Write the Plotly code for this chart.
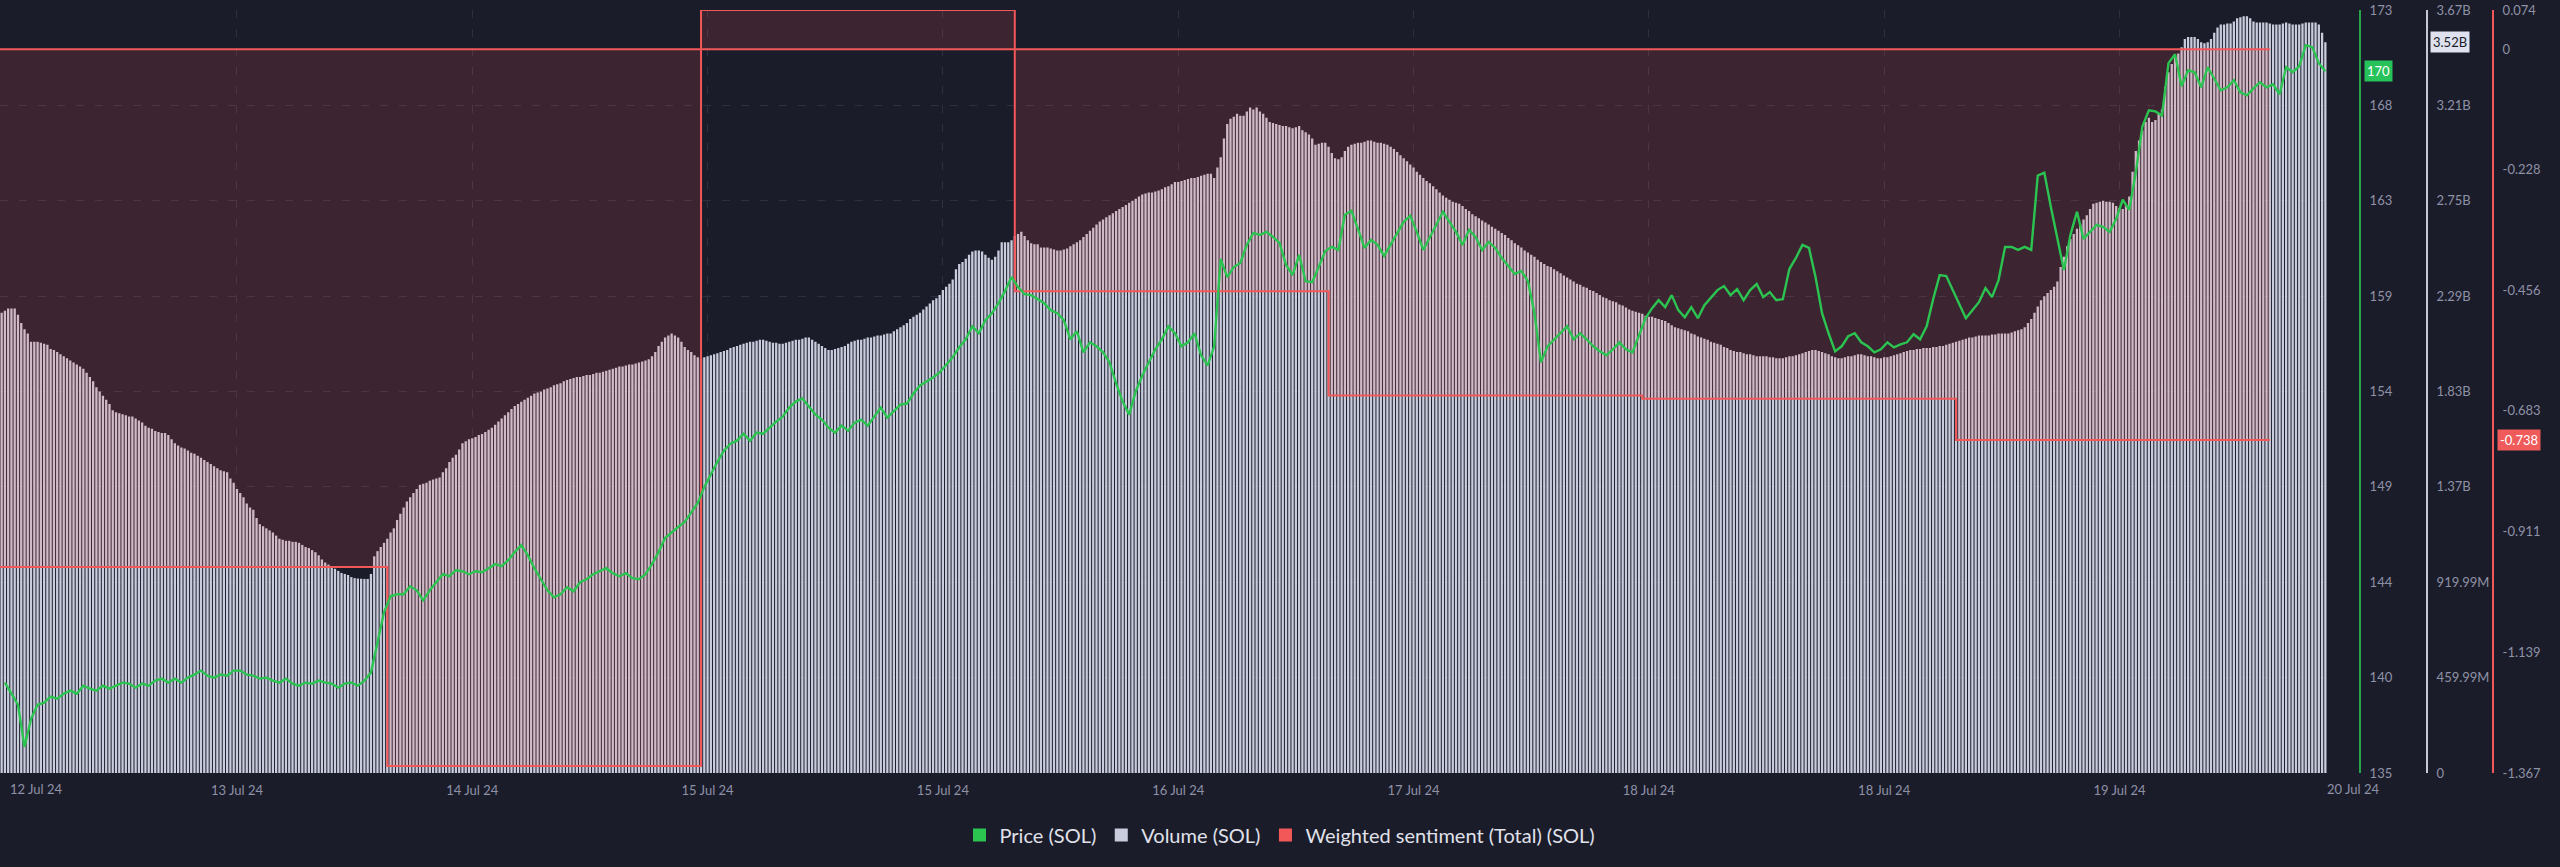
import pandas as pd
import plotly.graph_objects as go

# ---------------- data ----------------
START = "2024-07-12 18:30"

# Volume (SOL), billions, one bar every 15 minutes
VOLUME_B = [
    2.22, 2.23, 2.24, 2.24, 2.24, 2.21, 2.17, 2.14, 2.12, 2.08,
    2.08, 2.08, 2.075, 2.07, 2.065, 2.045, 2.04, 2.03, 2.02, 2.01,
    2.00, 1.99, 1.98, 1.97, 1.96, 1.95, 1.93, 1.91, 1.89, 1.86,
    1.84, 1.82, 1.80, 1.78, 1.75, 1.74, 1.735, 1.73, 1.725, 1.72,
    1.72, 1.71, 1.70, 1.69, 1.675, 1.665, 1.66, 1.65, 1.645, 1.64,
    1.64, 1.63, 1.61, 1.59, 1.58, 1.57, 1.565, 1.555, 1.545, 1.54,
    1.53, 1.52, 1.51, 1.50, 1.49, 1.48, 1.47, 1.46, 1.455, 1.45,
    1.42, 1.40, 1.37, 1.35, 1.33, 1.30, 1.28, 1.27, 1.23, 1.20,
    1.19, 1.18, 1.17, 1.16, 1.145, 1.13, 1.125, 1.12, 1.12, 1.115,
    1.115, 1.11, 1.10, 1.09, 1.085, 1.075, 1.065, 1.05, 1.03, 1.015,
    1.005, 0.995, 0.985, 0.975, 0.965, 0.96, 0.955, 0.945, 0.94, 0.938,
    0.937, 0.936, 0.936, 0.96, 1.045, 1.07, 1.09, 1.11, 1.13, 1.16,
    1.18, 1.22, 1.25, 1.28, 1.31, 1.33, 1.35, 1.37, 1.39, 1.395,
    1.40, 1.41, 1.415, 1.42, 1.425, 1.45, 1.47, 1.50, 1.52, 1.535,
    1.56, 1.59, 1.60, 1.61, 1.615, 1.62, 1.63, 1.635, 1.645, 1.655,
    1.665, 1.68, 1.695, 1.71, 1.725, 1.74, 1.755, 1.77, 1.78, 1.79,
    1.80, 1.81, 1.82, 1.83, 1.835, 1.84, 1.85, 1.855, 1.86, 1.87,
    1.875, 1.88, 1.89, 1.895, 1.90, 1.905, 1.91, 1.91, 1.915, 1.92,
    1.92, 1.925, 1.93, 1.93, 1.935, 1.94, 1.945, 1.95, 1.955, 1.96,
    1.96, 1.965, 1.97, 1.97, 1.975, 1.98, 1.985, 1.99, 1.995, 2.01,
    2.03, 2.06, 2.08, 2.10, 2.11, 2.12, 2.11, 2.10, 2.08, 2.055,
    2.04, 2.03, 2.015, 2.005, 2.00, 2.005, 2.01, 2.015, 2.02, 2.025,
    2.03, 2.035, 2.04, 2.05, 2.055, 2.06, 2.065, 2.07, 2.075, 2.08,
    2.08, 2.085, 2.09, 2.09, 2.085, 2.08, 2.075, 2.075, 2.07, 2.07,
    2.075, 2.08, 2.085, 2.09, 2.09, 2.095, 2.10, 2.10, 2.09, 2.08,
    2.07, 2.06, 2.05, 2.04, 2.04, 2.045, 2.05, 2.055, 2.06, 2.07,
    2.08, 2.085, 2.09, 2.09, 2.095, 2.10, 2.10, 2.105, 2.11, 2.11,
    2.115, 2.12, 2.12, 2.13, 2.14, 2.15, 2.16, 2.17, 2.19, 2.20,
    2.21, 2.22, 2.235, 2.25, 2.265, 2.28, 2.29, 2.305, 2.33, 2.345,
    2.36, 2.38, 2.43, 2.455, 2.465, 2.48, 2.50, 2.515, 2.52, 2.52,
    2.515, 2.50, 2.485, 2.475, 2.49, 2.52, 2.56, 2.56, 2.56, 2.57,
    2.59, 2.60, 2.61, 2.59, 2.57, 2.555, 2.55, 2.55, 2.535, 2.535,
    2.535, 2.53, 2.525, 2.52, 2.52, 2.525, 2.53, 2.54, 2.55, 2.56,
    2.57, 2.585, 2.60, 2.615, 2.63, 2.645, 2.66, 2.67, 2.68, 2.69,
    2.70, 2.71, 2.72, 2.73, 2.74, 2.75, 2.76, 2.77, 2.78, 2.79,
    2.795, 2.80, 2.80, 2.805, 2.81, 2.815, 2.825, 2.83, 2.84, 2.85,
    2.85, 2.855, 2.86, 2.865, 2.87, 2.87, 2.875, 2.88, 2.885, 2.89,
    2.89, 2.87, 2.92, 2.97, 3.06, 3.13, 3.155, 3.165, 3.18, 3.17,
    3.17, 3.19, 3.21, 3.20, 3.21, 3.19, 3.18, 3.16, 3.14, 3.135,
    3.13, 3.125, 3.12, 3.12, 3.115, 3.11, 3.115, 3.12, 3.10, 3.09,
    3.08, 3.06, 3.03, 3.035, 3.04, 3.04, 3.02, 2.99, 2.965, 2.96,
    2.97, 3.00, 3.02, 3.03, 3.035, 3.04, 3.04, 3.045, 3.05, 3.05,
    3.045, 3.04, 3.04, 3.035, 3.03, 3.02, 3.01, 2.995, 2.98, 2.965,
    2.95, 2.935, 2.92, 2.90, 2.885, 2.87, 2.855, 2.845, 2.83, 2.815,
    2.80, 2.785, 2.775, 2.765, 2.755, 2.75, 2.745, 2.735, 2.72, 2.71,
    2.695, 2.685, 2.675, 2.665, 2.655, 2.645, 2.635, 2.625, 2.615, 2.605,
    2.595, 2.58, 2.57, 2.555, 2.545, 2.535, 2.52, 2.51, 2.50, 2.49,
    2.475, 2.465, 2.455, 2.445, 2.44, 2.43, 2.42, 2.41, 2.40, 2.39,
    2.38, 2.37, 2.36, 2.355, 2.345, 2.34, 2.33, 2.325, 2.315, 2.305,
    2.295, 2.29, 2.28, 2.275, 2.27, 2.26, 2.255, 2.245, 2.235, 2.23,
    2.225, 2.22, 2.215, 2.205, 2.20, 2.20, 2.195, 2.19, 2.185, 2.18,
    2.17, 2.16, 2.15, 2.145, 2.14, 2.135, 2.13, 2.12, 2.115, 2.105,
    2.10, 2.095, 2.09, 2.08, 2.075, 2.07, 2.065, 2.055, 2.05, 2.04,
    2.035, 2.03, 2.03, 2.025, 2.02, 2.02, 2.015, 2.01, 2.01, 2.01,
    2.01, 2.005, 2.005, 2.00, 2.00, 2.00, 2.005, 2.01, 2.01, 2.015,
    2.02, 2.025, 2.03, 2.035, 2.04, 2.04, 2.035, 2.03, 2.025, 2.02,
    2.01, 2.005, 2.00, 2.00, 2.005, 2.01, 2.01, 2.015, 2.02, 2.02,
    2.015, 2.01, 2.01, 2.005, 2.00, 2.00, 2.005, 2.005, 2.01, 2.015,
    2.02, 2.025, 2.03, 2.035, 2.04, 2.04, 2.045, 2.045, 2.05, 2.05,
    2.05, 2.055, 2.055, 2.06, 2.06, 2.065, 2.07, 2.075, 2.08, 2.085,
    2.09, 2.095, 2.10, 2.10, 2.105, 2.11, 2.11, 2.11, 2.11, 2.115,
    2.115, 2.12, 2.12, 2.12, 2.12, 2.125, 2.13, 2.135, 2.14, 2.15,
    2.17, 2.19, 2.22, 2.25, 2.28, 2.30, 2.315, 2.33, 2.345, 2.37,
    2.44, 2.49, 2.54, 2.575, 2.60, 2.625, 2.645, 2.67, 2.69, 2.72,
    2.745, 2.75, 2.755, 2.76, 2.755, 2.755, 2.75, 2.735, 2.725, 2.72,
    2.74, 2.78, 2.90, 3.00, 3.05, 3.10, 3.14, 3.16, 3.14, 3.15,
    3.18, 3.20, 3.31, 3.38, 3.42, 3.45, 3.47, 3.50, 3.54, 3.55,
    3.55, 3.55, 3.54, 3.525, 3.52, 3.525, 3.54, 3.57, 3.595, 3.61,
    3.61, 3.615, 3.615, 3.625, 3.64, 3.645, 3.65, 3.65, 3.64, 3.625,
    3.62, 3.62, 3.62, 3.62, 3.615, 3.61, 3.61, 3.61, 3.615, 3.62,
    3.615, 3.61, 3.61, 3.61, 3.615, 3.62, 3.62, 3.62, 3.62, 3.61,
    3.57, 3.524,
]

# Price (SOL), USD, one point every 30 minutes (offset 15 min from START)
PRICE = [
    139.5, 138.95, 138.4, 136.3, 137.7, 138.4, 138.5, 138.8, 138.7, 138.95,
    139.1, 138.95, 139.35, 139.2, 139.1, 139.35, 139.2, 139.35, 139.5, 139.45,
    139.25, 139.45, 139.35, 139.6, 139.7, 139.5, 139.7, 139.5, 139.75, 139.9,
    140.1, 139.85, 139.75, 139.9, 139.85, 140.1, 140.1, 139.9, 139.85, 139.7,
    139.75, 139.6, 139.5, 139.7, 139.45, 139.35, 139.5, 139.45, 139.6, 139.5,
    139.45, 139.25, 139.45, 139.5, 139.35, 139.6, 140.0, 141.5, 143.0, 143.8,
    143.9, 143.9, 144.3, 144.1, 143.6, 144.1, 144.5, 144.9, 144.8, 145.1,
    145.05, 144.9, 145.05, 145.0, 145.2, 145.4, 145.3, 145.6, 146.0, 146.35,
    145.85, 145.2, 144.65, 144.1, 143.75, 143.9, 144.25, 144.05, 144.5, 144.65,
    144.9, 145.05, 145.2, 144.95, 144.8, 144.95, 144.7, 144.65, 144.9, 145.4,
    146.0, 146.7, 147.0, 147.25, 147.5, 147.95, 148.45, 149.25, 149.9, 150.5,
    151.05, 151.4, 151.55, 151.9, 151.55, 151.95, 151.9, 152.2, 152.5, 152.75,
    153.2, 153.5, 153.65, 153.25, 152.85, 152.6, 152.2, 151.95, 152.3, 152.05,
    152.45, 152.6, 152.3, 152.75, 153.2, 152.7, 153.0, 153.35, 153.4, 153.9,
    154.3, 154.5, 154.7, 154.95, 155.35, 155.7, 156.2, 156.6, 157.25, 156.9,
    157.55, 157.9, 158.4, 159.0, 159.7, 159.2, 158.85, 158.8, 158.6, 158.4,
    158.05, 157.9, 157.55, 156.6, 157.0, 155.95, 156.45, 156.25, 155.95, 155.45,
    154.4, 153.5, 152.85, 154.0, 154.8, 155.45, 156.1, 156.6, 157.25, 156.9,
    156.25, 156.45, 156.9, 155.8, 155.3, 156.25, 160.6, 159.7, 160.2, 160.4,
    161.3, 161.9, 161.8, 161.95, 161.7, 161.4, 160.3, 159.8, 160.8, 159.5,
    159.45, 160.2, 161.0, 161.2, 161.05, 162.8, 163.0, 162.1, 161.15, 161.55,
    161.3, 160.75, 161.3, 161.9, 162.45, 162.75, 161.95, 161.05, 161.7, 162.35,
    162.95, 162.45, 161.95, 161.3, 162.05, 161.7, 161.05, 161.45, 161.15, 160.65,
    160.25, 159.85, 160.0, 159.5, 157.9, 155.45, 156.25, 156.6, 156.9, 157.25,
    156.6, 156.9, 156.6, 156.25, 156.0, 155.8, 156.1, 156.45, 156.1, 155.95,
    156.8, 157.65, 158.15, 158.55, 158.2, 158.8, 158.05, 157.7, 158.2, 157.65,
    158.3, 158.7, 159.05, 159.25, 158.8, 159.1, 158.55, 159.05, 159.35, 158.7,
    158.95, 158.55, 158.6, 160.1, 160.65, 161.3, 161.15, 159.7, 157.9, 156.9,
    156.0, 156.25, 156.75, 156.9, 156.45, 156.25, 155.95, 156.1, 156.45, 156.2,
    156.35, 156.45, 156.85, 156.6, 157.25, 158.6, 159.8, 159.75, 159.05, 158.3,
    157.65, 158.05, 158.45, 159.15, 158.7, 159.55, 161.2, 161.2, 161.05, 161.2,
    161.05, 164.75, 164.9, 163.2, 161.6, 160.05, 161.8, 162.95, 161.6, 161.95,
    162.3, 162.2, 161.95, 162.6, 163.55, 163.05, 164.9, 167.2, 168.0, 167.95,
    167.75, 170.35, 170.8, 169.2, 170.0, 169.9, 169.15, 170.15, 169.6, 169.0,
    169.15, 169.5, 168.9, 168.75, 169.1, 169.4, 169.15, 169.3, 168.8, 170.15,
    169.9, 170.2, 171.25, 171.15, 170.35, 169.95,
]

# Weighted sentiment (Total), daily values (step after each date)
SENT_DATES = ["2024-07-12", "2024-07-13", "2024-07-14", "2024-07-15", "2024-07-16",
              "2024-07-17", "2024-07-18", "2024-07-19", "2024-07-20"]
SENT_VALUES = [-0.978, -0.978, -1.354, 0.074, -0.457, -0.654, -0.660, -0.738, -0.738]

# axis ticks
X_TICK_TIMES = ["2024-07-12 18:30", "2024-07-13 12:30", "2024-07-14 06:30", "2024-07-15 00:30",
                "2024-07-15 18:30", "2024-07-16 12:30", "2024-07-17 06:30", "2024-07-18 00:30",
                "2024-07-18 18:30", "2024-07-19 12:30", "2024-07-20 06:30"]
X_TICK_LABELS = ["12 Jul 24", "13 Jul 24", "14 Jul 24", "15 Jul 24", "15 Jul 24", "16 Jul 24",
                 "17 Jul 24", "18 Jul 24", "18 Jul 24", "19 Jul 24", "20 Jul 24"]
PRICE_TICKS = [135, 139.75, 144.5, 149.25, 154, 158.75, 163.5, 168.25, 173]
PRICE_TICK_LABELS = ["135", "140", "144", "149", "154", "159", "163", "168", "173"]
VOL_TICKS_B = [0, 0.46, 0.92, 1.38, 1.84, 2.30, 2.76, 3.22, 3.68]
VOL_TICK_LABELS = ["0", "459.99M", "919.99M", "1.37B", "1.83B", "2.29B", "2.75B", "3.21B", "3.67B"]
SENT_TICKS = [0.074, 0, -0.228, -0.456, -0.683, -0.911, -1.139, -1.367]
SENT_TICK_LABELS = ["0.074", "0", "-0.228", "-0.456", "-0.683", "-0.911", "-1.139", "-1.367"]

# ---------------- style / layout ----------------
W, H = 2560, 867
PLOT_RIGHT, PLOT_TOP, PLOT_BOTTOM = 2327, 10, 773
BG = "#1b1c2a"
GRID = "#2d3041"
TICK_COLOR = "#8e92a6"
GREEN = "#2bc451"
VOL_COLOR = "#c8ccdc"
RED = "#f25858"
FONT = "Lato, Inter, sans-serif"

vol_times = pd.date_range(START, periods=len(VOLUME_B), freq="15min")
price_times = pd.date_range(pd.Timestamp(START) + pd.Timedelta("15min"), periods=len(PRICE), freq="30min")
half = pd.Timedelta("7min 30s")
x_range = [vol_times[0] - half, vol_times[-1] + half]

ydom = [(H - PLOT_BOTTOM) / H, (H - PLOT_TOP) / H]

fig = go.Figure()

fig.add_trace(go.Bar(
    x=vol_times, y=VOLUME_B, yaxis="y", marker=dict(color=VOL_COLOR, line=dict(width=0)),
    showlegend=False, hoverinfo="skip"))

fig.add_trace(go.Scatter(
    x=SENT_DATES, y=SENT_VALUES, yaxis="y2", mode="lines",
    line=dict(shape="hv", color=RED, width=2), fill="tozeroy",
    fillcolor="rgba(255,90,90,0.15)", showlegend=False, hoverinfo="skip"))
fig.add_trace(go.Scatter(
    x=[SENT_DATES[0], SENT_DATES[-1]], y=[0, 0], yaxis="y2", mode="lines",
    line=dict(color=RED, width=2), showlegend=False, hoverinfo="skip"))

fig.add_trace(go.Scatter(
    x=price_times, y=PRICE, yaxis="y3", mode="lines",
    line=dict(color=GREEN, width=2.4), showlegend=False, hoverinfo="skip"))

# legend entries
for name, col in [("Price (SOL)", GREEN), ("Volume (SOL)", VOL_COLOR),
                  ("Weighted sentiment (Total) (SOL)", RED)]:
    fig.add_trace(go.Scatter(x=[None], y=[None], mode="markers", name=name,
                             marker=dict(symbol="square", size=13, color=col)))

common_y = dict(anchor="free", side="right", domain=ydom, ticks="", zeroline=False,
                tickfont=dict(size=13, color=TICK_COLOR, family=FONT), automargin=False,
                showline=True, linewidth=2, ticklabelstandoff=6)

fig.update_layout(
    width=W, height=H, autosize=False,
    margin=dict(l=0, r=0, t=0, b=0, autoexpand=False),
    paper_bgcolor=BG, plot_bgcolor=BG,
    font=dict(family=FONT, color=TICK_COLOR),
    bargap=0.3, hovermode=False,
    xaxis=dict(domain=[0, PLOT_RIGHT / W], range=x_range, type="date", automargin=False,
               tickvals=X_TICK_TIMES[1:-1], ticktext=X_TICK_LABELS[1:-1],
               ticks="", showgrid=True, gridcolor=GRID, griddash="8px,11px", gridwidth=1,
               zeroline=False, showline=False, ticklabelstandoff=8,
               tickfont=dict(size=13, color=TICK_COLOR, family=FONT)),
    yaxis=dict(range=[0, 3.68], position=2427 / W, linecolor="#c5c8d6",
               tickvals=VOL_TICKS_B, ticktext=VOL_TICK_LABELS, showgrid=False, **common_y),
    yaxis2=dict(range=[-1.367, 0.074], position=2493 / W, linecolor=RED, overlaying="y",
                tickvals=SENT_TICKS, ticktext=SENT_TICK_LABELS, showgrid=False, **common_y),
    yaxis3=dict(range=[135, 173], position=2360 / W, linecolor="#27a44a", overlaying="y",
                tickvals=PRICE_TICKS, ticktext=PRICE_TICK_LABELS, showgrid=True,
                gridcolor=GRID, griddash="8px,11px", gridwidth=1, **common_y),
    legend=dict(orientation="h", x=0.5, xanchor="center", y=(H - 835) / H, yanchor="middle",
                font=dict(size=20, color="#e0e2ea", family=FONT), bgcolor="rgba(0,0,0,0)",
                itemwidth=30),
)

# first / last x labels (outside the tick range)
fig.add_annotation(x=8 / W, xref="paper", xanchor="left", y=(H - 789) / H, yref="paper",
                   yanchor="middle", text=X_TICK_LABELS[0], showarrow=False,
                   font=dict(size=13, color=TICK_COLOR, family=FONT))
fig.add_annotation(x=2353 / W, xref="paper", xanchor="center", y=(H - 789) / H, yref="paper",
                   yanchor="middle", text=X_TICK_LABELS[-1], showarrow=False,
                   font=dict(size=13, color=TICK_COLOR, family=FONT))

# last value badges
fig.add_annotation(x=2364 / W, xref="paper", xanchor="left", y=PRICE[-1], yref="y3",
                   yanchor="middle", text=f"{PRICE[-1]:.0f}", showarrow=False,
                   bgcolor="#27c25a", borderpad=2,
                   font=dict(size=13, color="#ffffff", family=FONT))
fig.add_annotation(x=2430 / W, xref="paper", xanchor="left", y=VOLUME_B[-1], yref="y",
                   yanchor="middle", text=f"{VOLUME_B[-1]:.2f}B", showarrow=False,
                   bgcolor="#dfe2ee", borderpad=2,
                   font=dict(size=13, color="#1b1c2a", family=FONT))
fig.add_annotation(x=2497 / W, xref="paper", xanchor="left", y=SENT_VALUES[-1], yref="y2",
                   yanchor="middle", text=f"{SENT_VALUES[-1]:.3f}", showarrow=False,
                   bgcolor="#ef5a5a", borderpad=2,
                   font=dict(size=13, color="#ffffff", family=FONT))

fig.write_html("out.html")
